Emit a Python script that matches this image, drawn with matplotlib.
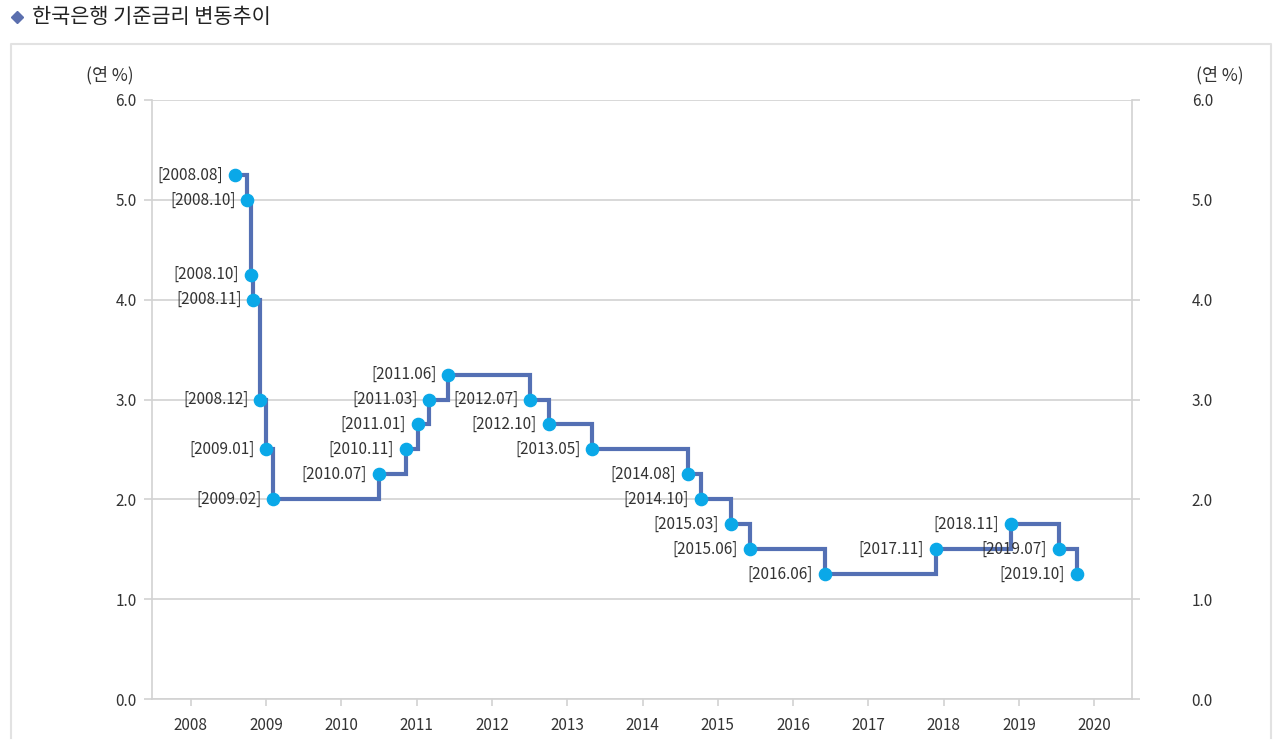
import datetime as dt
import matplotlib
matplotlib.use("Agg")
import matplotlib.pyplot as plt
from matplotlib.lines import Line2D

plt.rcParams['font.family'] = ['Noto Sans CJK KR', 'DejaVu Sans']

# ---- data ----
dates = ["2008-08-01", "2008-10-03", "2008-10-21", "2008-11-01", "2008-12-05",
         "2009-01-03", "2009-02-06", "2010-07-03", "2010-11-10", "2011-01-07",
         "2011-03-04", "2011-06-04", "2012-07-06", "2012-10-05", "2013-05-03",
         "2014-08-08", "2014-10-09", "2015-03-06", "2015-06-05", "2016-06-03",
         "2017-11-24", "2018-11-24", "2019-07-12", "2019-10-10"]
rates = [5.25, 5.00, 4.25, 4.00, 3.00, 2.50, 2.00, 2.25, 2.50, 2.75,
         3.00, 3.25, 3.00, 2.75, 2.50, 2.25, 2.00, 1.75, 1.50, 1.25,
         1.50, 1.75, 1.50, 1.25]
year_ticks = list(range(2008, 2021))
y_ticks = [0.0, 1.0, 2.0, 3.0, 4.0, 5.0, 6.0]
title = "한국은행 기준금리 변동추이"
unit = "(연 %)"


def to_dec(s):
    d = dt.date.fromisoformat(s)
    start = dt.date(d.year, 1, 1)
    n = (dt.date(d.year + 1, 1, 1) - start).days
    return d.year + (d - start).days / n


xs = [to_dec(s) for s in dates]
labels = ["[" + s[:7].replace("-", ".") + "]" for s in dates]

W, H = 1280, 752
fig = plt.figure(figsize=(W / 100, H / 100), dpi=100)
ax = fig.add_axes([152 / W, 1 - 699 / H, (1132 - 152) / W, (699 - 100) / H])

grid_c = "#d2d2d2"
line_c = "#5470b4"
pt_c = "#0aa8e8"
txt_c = "#333333"

ax.step(xs, rates, where="post", color=line_c, lw=3.0, zorder=3,
        solid_joinstyle="miter")
ax.plot(xs, rates, "o", color=pt_c, ms=8.8, mec=pt_c, zorder=4)
for x, y, lab in zip(xs, rates, labels):
    ax.annotate(lab, (x, y), xytext=(-12, 0), textcoords="offset pixels",
                ha="right", va="center", fontsize=11, color=txt_c, zorder=5)

ax.set_xlim(2007.486, 2020.50)
ax.set_ylim(0, 6)
ax.set_xticks(year_ticks)
ax.set_xticklabels([str(y) for y in year_ticks])
ax.set_yticks(y_ticks)
ax.set_yticklabels([f"{v:.1f}" for v in y_ticks])
ax.grid(axis="y", color=grid_c, lw=1.2)
ax.set_axisbelow(True)
for s in ax.spines.values():
    s.set_color(grid_c)
    s.set_linewidth(1.2)
ax.spines["top"].set_visible(False)
ax.tick_params(axis="x", length=5, width=1.2, color=grid_c, pad=8,
               labelsize=11, labelcolor=txt_c)
ax.tick_params(axis="y", length=6, width=1.2, color=grid_c, pad=5,
               labelsize=11, labelcolor=txt_c)

ax2 = ax.twinx()
ax2.set_ylim(0, 6)
ax2.set_yticks(y_ticks)
ax2.set_yticklabels([f"{v:.1f}" for v in y_ticks])
ax2.tick_params(axis="y", length=6, width=1.2, color=grid_c, pad=37,
                labelsize=11, labelcolor=txt_c)
for s in ax2.spines.values():
    s.set_visible(False)

fig.text(110 / W, 1 - 75 / H, unit, ha="center", va="center", fontsize=12.5,
         color=txt_c)
fig.text(1220 / W, 1 - 75 / H, unit, ha="center", va="center", fontsize=12.5,
         color=txt_c)

fig.add_artist(Line2D([17 / W], [1 - 17 / H], marker="D", ms=6.5,
                      color="#5b6fae", mec="#5b6fae", lw=0,
                      transform=fig.transFigure))
fig.text(32 / W, 1 - 17 / H, title, ha="left", va="center", fontsize=15,
         color="#222222")

box_c = "#e2e2e2"
fig.add_artist(Line2D([11 / W, 11 / W, 1271 / W, 1271 / W],
                      [1 - 738 / H, 1 - 44 / H, 1 - 44 / H, 1 - 738 / H],
                      transform=fig.transFigure, color=box_c, lw=1.5))

fig.savefig("out.png", dpi=100)
